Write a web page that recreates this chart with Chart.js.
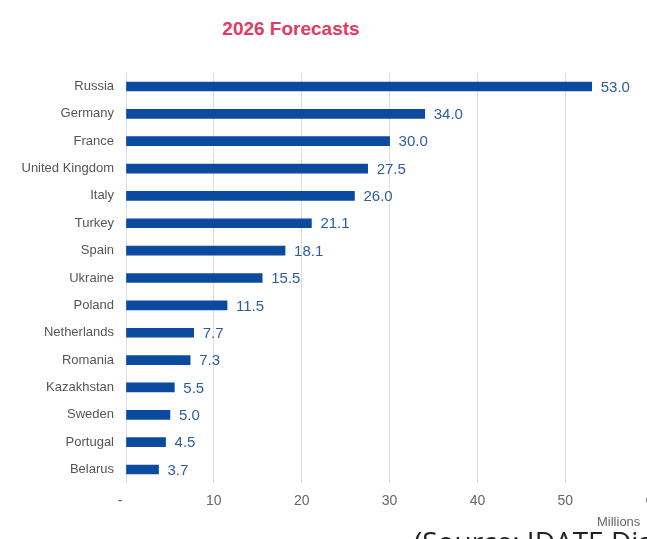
<!DOCTYPE html>
<html>
<head>
<meta charset="utf-8">
<script src="https://cdn.jsdelivr.net/npm/chart.js@4/dist/chart.umd.min.js"></script>
<style>
  html, body { margin: 0; padding: 0; background: #fff; width: 647px; height: 539px; overflow: hidden; position: relative; }
  #title { position: absolute; left: 0; top: 18px; width: 582px; text-align: center; font: bold 19px "Liberation Sans", Arial, sans-serif; color: #e23a62; }
  #chart-box { position: absolute; left: 0; top: 53px; width: 671px; height: 473px; }
  #unit { position: absolute; left: 597px; top: 514px; font: 13px "Liberation Sans", Arial, sans-serif; color: #666; white-space: nowrap; }
  #source { position: absolute; left: 414px; top: 527px; font: 28px "Open Sans", sans-serif; color: #222; white-space: nowrap; line-height: 1; }
</style>
</head>
<body>
<div id="title">2026 Forecasts</div>
<div id="chart-box"><canvas id="forecasts"></canvas></div>
<div id="unit">Millions</div>
<div id="source">(Source: IDATE DigiWorld)</div>
<script>
const countries = ['Russia', 'Germany', 'France', 'United Kingdom', 'Italy', 'Turkey', 'Spain', 'Ukraine', 'Poland', 'Netherlands', 'Romania', 'Kazakhstan', 'Sweden', 'Portugal', 'Belarus'];
const forecasts = [53.0, 34.0, 30.0, 27.5, 26.0, 21.1, 18.1, 15.5, 11.5, 7.7, 7.3, 5.5, 5.0, 4.5, 3.7];
const xTicks = [0, 10, 20, 30, 40, 50, 60];

const FONT = '"Liberation Sans", Arial, sans-serif';

// writes the value just past the end of each bar
const valueLabels = {
  id: 'valueLabels',
  afterDatasetsDraw (chart) {
    const { ctx } = chart;
    const meta = chart.getDatasetMeta(0);
    ctx.save();
    ctx.font = '15px ' + FONT;
    ctx.fillStyle = '#2c5d9e';
    ctx.textAlign = 'left';
    ctx.textBaseline = 'middle';
    meta.data.forEach((bar, i) => {
      ctx.fillText(forecasts[i].toFixed(1), bar.x + 9, bar.y + 1);
    });
    ctx.restore();
  }
};

// eslint-disable-next-line no-undef
const forecastChart = new Chart('forecasts', {
  type: 'bar',
  data: {
    labels: countries,
    datasets: [
      { data: forecasts, backgroundColor: '#0b4a9e', barThickness: 9 }
    ]
  },
  options: {
    indexAxis: 'y',
    responsive: true,
    maintainAspectRatio: false,
    animation: false,
    layout: { padding: { top: 12, right: 10, bottom: 6, left: 0 } },
    plugins: {
      legend: { display: false },
      tooltip: { enabled: false }
    },
    scales: {
      x: {
        min: xTicks[0],
        max: xTicks[xTicks.length - 1],
        afterBuildTicks: scale => { scale.ticks = xTicks.map(value => ({ value })); },
        grid: { color: '#dedede', drawTicks: false },
        border: { display: false },
        ticks: {
          padding: 10,
          color: '#666',
          font: { family: FONT, size: 14 },
          callback: value => value === 0 ? '-   ' : value
        }
      },
      y: {
        afterFit: scale => { scale.width = 126; },
        grid: { display: false, drawTicks: false },
        border: { display: false },
        ticks: {
          padding: 12,
          color: '#555',
          font: { family: FONT, size: 13 }
        }
      }
    }
  },
  plugins: [valueLabels]
});
</script>
</body>
</html>
